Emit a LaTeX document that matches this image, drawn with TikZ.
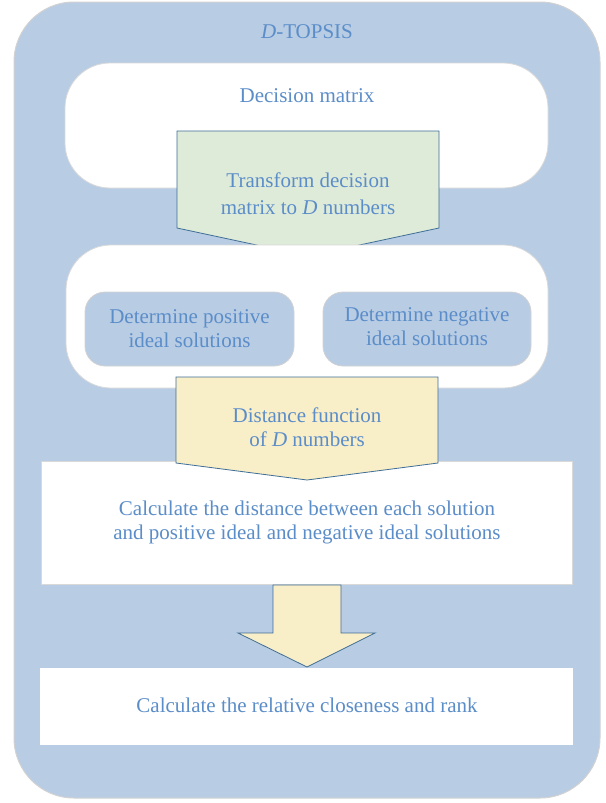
\documentclass[tikz,border=0pt]{standalone}
\usepackage{fontspec}
\setmainfont{Liberation Serif}
\definecolor{frameblue}{RGB}{184,204,228}
\definecolor{textblue}{RGB}{91,141,201}
\definecolor{arrowline}{RGB}{62,110,150}
\definecolor{greenfill}{RGB}{223,235,217}
\definecolor{yellowfill}{RGB}{248,238,200}
\tikzset{
  txt/.style={text=textblue, align=center, font=\fontsize{21}{24}\selectfont},
  whitebox/.style={fill=white, draw=gray!30, line width=0.8pt},
  bluebox/.style={fill=frameblue, draw=gray!35, line width=0.8pt, rounded corners=20pt}
}
\begin{document}
\begin{tikzpicture}[x=1pt,y=-1pt]
\useasboundingbox (0,0) rectangle (605,803);
% outer frame
\node[fill=frameblue, draw=gray!35, line width=1pt, rounded corners=60pt,
  minimum width=586pt, minimum height=796pt] (frame) at (307,400) {};
\node[txt] (title) at (307,32) {\textit{D}-TOPSIS};
% decision matrix
\node[whitebox, rounded corners=45pt, minimum width=483pt, minimum height=125pt] (matrix) at (306.5,125.5) {};
\node[txt] (matrixtxt) at (307,96) {Decision matrix};
\filldraw[fill=greenfill, draw=arrowline, line width=0.8pt] (177,131) -- (439,131) -- (439,228) -- (308,256) -- (177,228) -- cycle;
\node[txt, font=\fontsize{21}{27}\selectfont] (transform) at (308,194) {Transform decision\\matrix to \textit{D} numbers};
% ideal solutions
\node[whitebox, rounded corners=45pt, minimum width=482pt, minimum height=143pt] (ideal) at (307,316.5) {};
\node[bluebox, minimum width=209pt, minimum height=74pt] (pos) at (189.5,329) {};
\node[txt] (postxt) at (pos) {Determine positive\\ideal solutions};
\node[bluebox, minimum width=208pt, minimum height=74pt] (neg) at (427,329) {};
\node[txt] (negtxt) at (427,327) {Determine negative\\ideal solutions};
% distance
\node[whitebox, minimum width=531pt, minimum height=123pt] (dist) at (306.5,522.5) {};
\node[txt] (disttxt) at (307,522) {Calculate the distance between each solution\\and positive ideal and negative ideal solutions};
\filldraw[fill=yellowfill, draw=arrowline, line width=0.8pt] (176,377) -- (438,377) -- (438,463) -- (307,480) -- (176,463) -- cycle;
\node[txt] (function) at (307,427) {Distance function\\of \textit{D} numbers};
% rank
\filldraw[fill=yellowfill, draw=arrowline, line width=0.8pt] (273,585) -- (341,585) -- (341,633) -- (375,633) -- (307,667) -- (238,633) -- (273,633) -- cycle;
\node[fill=white, minimum width=533pt, minimum height=77pt] (rank) at (306.5,706.5) {};
\node[txt] (ranktxt) at (307,705) {Calculate the relative closeness and rank};
\end{tikzpicture}
\end{document}
